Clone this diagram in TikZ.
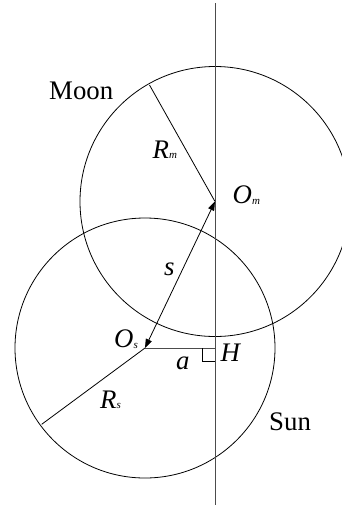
\documentclass[tikz,border=0pt]{standalone}
\usepackage{fontspec}
\setmainfont{Liberation Serif}
\usetikzlibrary{arrows.meta}
\newcommand{\lbl}[2]{\textit{#1}\raisebox{-0.8pt}{\fontsize{11}{11}\selectfont\textit{#2}}}
\begin{document}
\begin{tikzpicture}[x=1pt,y=-1pt,
  body/.style={draw=black,line width=0.8pt,circle,inner sep=0pt},
  thin/.style={draw=black,line width=0.8pt},
  axis/.style={draw=black!70,line width=0.95pt},
  lab/.style={anchor=base west,inner sep=0pt,font=\fontsize{26.8}{30}\selectfont}]
\useasboundingbox (0,0) rectangle (342,507);
\coordinate (Om) at (215,201.5);
\coordinate (Os) at (145,348);
\coordinate (H) at (215,348);
\coordinate (top) at (215,3);
\coordinate (bot) at (215,505);
\coordinate (rm) at (149.5,85);
\coordinate (rs) at (41.7,424.3);
\node[body,minimum size=270pt] (moon) at (Om) {};
\node[body,minimum size=260pt] (sun) at (Os) {};
\draw[axis] (top) -- (bot);
\draw[axis] (Os) -- (H);
\draw[thin] (rm) -- (Om);
\draw[thin] (Os) -- (rs);
\draw[thin,{Triangle[length=9pt,width=6.5pt]}-{Triangle[length=9pt,width=6.5pt]}] (Os) -- (Om);
\draw[thin] ([xshift=-12.5pt]H) -- ([xshift=-12.5pt,yshift=-13pt]H) -- ([yshift=-13pt]H);
\node[lab] (moonlbl) at (49,99) {Moon};
\node[lab] (rmlbl) at (152.5,158) {\lbl{R}{m}};
\node[lab] (omlbl) at (232.5,203.5) {\lbl{O}{m}};
\node[lab] (slbl) at (164,275) {\textit{s}};
\node[lab] (oslbl) at (114,347.5) {\lbl{O}{s}};
\node[lab] (albl) at (176,369) {\textit{a}};
\node[lab] (hlbl) at (220.5,361.5) {\textit{H}};
\node[lab] (rslbl) at (100,408) {\lbl{R}{s}};
\node[lab] (sunlbl) at (269,430) {Sun};
\end{tikzpicture}
\end{document}
